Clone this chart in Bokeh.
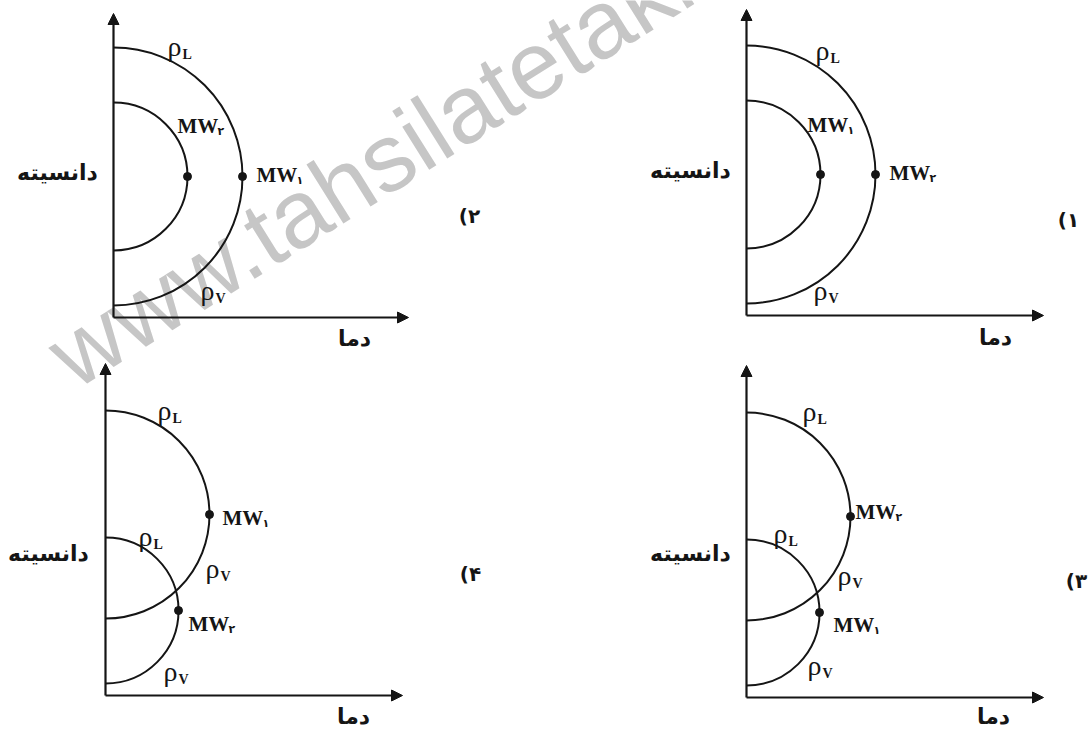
import math
from bokeh.plotting import figure
from bokeh.models import Range1d, Arrow, NormalHead
from bokeh.core.properties import value
from bokeh.embed import file_html
from bokeh.resources import INLINE

# ---------------- data ----------------
panel_digits = ["۱", "۲", "۳", "۴"]
y_label = "دانسیته"
x_label = "دما"
# semicircle centre height above the temperature axis and radius (diagram units)
big_center = [141, 141, 181, 181]
big_radius = [129, 129, 104, 104]
small_center = [141, 141, 85, 85]
small_radius = [74, 74, 73, 73]
big_mw_sub = ["۲", "۱", "۲", "۱"]
small_mw_sub = ["۱", "۲", "۱", "۲"]

# ---------------- layout (reference pixel positions) ----------------
W, H = 1090, 729
def Y(s):
    return H - s

origins = [(746, 315), (113, 317), (746, 697), (105, 695)]
y_tips = [9, 13, 365, 363]
x_tips = [1043, 408, 1043, 402]
ylab_pos = [(690, 170), (57, 172), (690, 553), (48, 553)]
xlab_pos = [(995, 337), (354, 338), (993, 716), (353, 716)]
num_pos = [(1068, 219), (469, 215), (1076, 580), (470, 573)]
# rho labels: (x_left, top of glyph, subscript)
rho_labels = [
    [(815, 47, "L"), (813, 287, "V")],
    [(167, 43, "L"), (200, 287, "V")],
    [(802, 408, "L"), (773, 530, "L"), (837, 572, "V"), (807, 662, "V")],
    [(157, 407, "L"), (138, 533, "L"), (205, 565, "V"), (163, 668, "V")],
]
# MW labels: (x_left, vertical centre) for big and small circle
big_mw_pos = [(889, 172), (256, 174), (855, 511), (222, 517)]
small_mw_pos = [(807, 124), (177, 125), (833, 624), (188, 623)]

INK = "#151515"

p = figure(width=W, height=H, x_range=Range1d(0, W), y_range=Range1d(0, H),
           output_backend="svg", toolbar_location=None,
           x_axis_location=None, y_axis_location=None, min_border=0)
p.grid.visible = False
p.outline_line_color = None
p.background_fill_color = "white"
p.border_fill_color = "white"

# watermark (beneath)
p.text(x=[57], y=[Y(362)], text=["www.tahsilatetakmili.com"], angle=math.radians(32),
       text_font=value("Liberation Sans"), text_font_size="96px", text_color="#c6c6c6",
       text_align="left", text_baseline="alphabetic")

for i in range(4):
    ox, oy = origins[i]
    # axes with arrow heads
    p.add_layout(Arrow(end=NormalHead(size=11, fill_color=INK, line_color=INK),
                       x_start=ox, y_start=Y(oy), x_end=ox, y_end=Y(y_tips[i]),
                       line_color=INK, line_width=2.2))
    p.add_layout(Arrow(end=NormalHead(size=11, fill_color=INK, line_color=INK),
                       x_start=ox, y_start=Y(oy), x_end=x_tips[i], y_end=Y(oy),
                       line_color=INK, line_width=2.2))
    # semicircles
    cx = [ox, ox]
    cy = [Y(oy) + big_center[i], Y(oy) + small_center[i]]
    rr = [big_radius[i], small_radius[i]]
    p.arc(x=cx, y=cy, radius=rr, start_angle=-math.pi / 2, end_angle=math.pi / 2,
          line_color=INK, line_width=2)
    p.scatter(x=[ox + big_radius[i], ox + small_radius[i]], y=cy, size=8,
              fill_color=INK, line_color=INK)

    # axis labels
    p.text(x=[ylab_pos[i][0]], y=[Y(ylab_pos[i][1])], text=[y_label],
           text_font=value("DejaVu Sans"), text_font_style="bold", text_font_size="22px",
           text_color=INK, text_align="center", text_baseline="middle")
    p.text(x=[xlab_pos[i][0]], y=[Y(xlab_pos[i][1])], text=[x_label],
           text_font=value("DejaVu Sans"), text_font_style="bold", text_font_size="22px",
           text_color=INK, text_align="center", text_baseline="middle")
    # panel number "(n", forced left-to-right
    nx, ny = num_pos[i]
    p.text(x=[nx], y=[Y(ny)], text=["\u202D(" + panel_digits[i] + "\u202C"],
           text_font=value("DejaVu Sans"), text_font_style="bold", text_font_size="20px",
           text_color=INK, text_align="center", text_baseline="middle")

    # rho labels
    for (lx, top, sub) in rho_labels[i]:
        p.text(x=[lx], y=[Y(top + 3)], text=["ρ"], text_font=value("Liberation Serif"),
               text_font_size="28px", text_color=INK, text_align="left",
               text_baseline="middle")
        p.text(x=[lx + 15], y=[Y(top + 11)], text=[sub], text_font=value("Liberation Serif"),
               text_font_style="bold", text_font_size="14px", text_color=INK,
               text_align="left", text_baseline="middle")

    # MW labels
    for (pos, sub) in ((big_mw_pos[i], big_mw_sub[i]), (small_mw_pos[i], small_mw_sub[i])):
        mx, my = pos
        p.text(x=[mx], y=[Y(my)], text=["MW"], text_font=value("Liberation Serif"),
               text_font_style="bold", text_font_size="21px", text_color=INK,
               text_align="left", text_baseline="middle")
        p.text(x=[mx + 40], y=[Y(my + 6)], text=[sub], text_font=value("DejaVu Sans"),
               text_font_style="bold", text_font_size="11px", text_color=INK,
               text_align="left", text_baseline="middle")

open("out.html", "w").write(file_html(p, INLINE))
